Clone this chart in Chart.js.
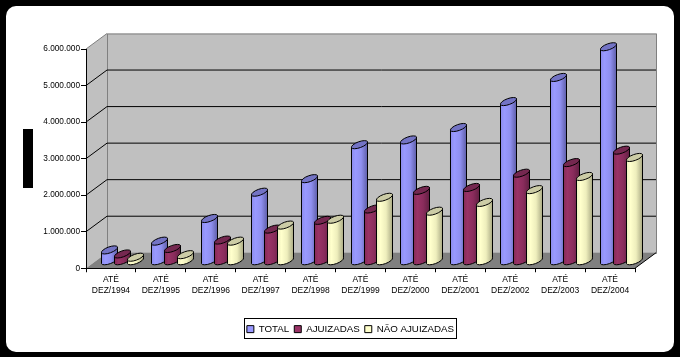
<!DOCTYPE html>
<html>
<head>
<meta charset="utf-8">
<style>html,body{margin:0;padding:0;background:#000;overflow:hidden}canvas{display:block}</style>
<script src="https://cdn.jsdelivr.net/npm/chart.js@4"></script>
</head>
<body>
<canvas id="c" width="680" height="357"></canvas>
<script>
const years = ['1994','1995','1996','1997','1998','1999','2000','2001','2002','2003','2004'];
const total = [310000,550000,1170000,1890000,2260000,3190000,3320000,3660000,4370000,5030000,5870000];
const ajuizadas = [200000,350000,580000,880000,1120000,1430000,1940000,2020000,2410000,2700000,3040000];
const naoAjuizadas = [110000,180000,550000,990000,1150000,1750000,1370000,1610000,1960000,2320000,2840000];

const DEPTH = {x:21, y:-15.5};
const BAR_SHIFT = {x:11, y:-7};
const TILT = 20 * Math.PI / 180;
const ELLIPSE_RY = 3;
const SHADES = {
  '#9999FF': ['#8C8CEC','#9999FF','#9090F0','#5E5EA8','#7373C4'],
  '#993366': ['#862B58','#993366','#8A2C5C','#611F42','#752850'],
  '#FFFFCC': ['#EDEDBE','#FFFFCC','#EEEEBC','#AAAA84','#CCCCA6']
};

const BarElement = Chart.registry.getElement('bar');
BarElement.prototype.draw = function (ctx) {
  const {x, y, base, width} = this.getProps(['x','y','base','width']);
  const s = SHADES[this.options.backgroundColor] || SHADES['#9999FF'];
  const left = Math.round(x + BAR_SHIFT.x - width / 2) + .5;
  const hw = Math.round(width) / 2, cx = left + hw;
  const top = y + BAR_SHIFT.y, bot = base + BAR_SHIFT.y;
  const rx = hw / Math.cos(TILT), dy = rx * Math.sin(TILT);
  const g = ctx.createLinearGradient(cx - hw, 0, cx + hw, 0);
  g.addColorStop(0, s[0]); g.addColorStop(0.25, s[1]); g.addColorStop(0.6, s[2]); g.addColorStop(1, s[3]);
  ctx.save();
  ctx.lineWidth = 1;
  ctx.strokeStyle = '#000';
  ctx.beginPath();
  ctx.moveTo(cx - hw, top + dy);
  ctx.lineTo(cx - hw, bot + dy);
  ctx.ellipse(cx, bot, rx, ELLIPSE_RY, -TILT, Math.PI, 0, true);
  ctx.lineTo(cx + hw, top - dy);
  ctx.closePath();
  ctx.fillStyle = g;
  ctx.fill();
  ctx.stroke();
  ctx.beginPath();
  ctx.ellipse(cx, top, rx, ELLIPSE_RY, -TILT, 0, Math.PI * 2);
  ctx.fillStyle = s[4];
  ctx.fill();
  ctx.stroke();
  ctx.restore();
};

const frame = {
  id: 'frame',
  beforeDraw(chart) {
    const ctx = chart.ctx, {x: xs, y: ys} = chart.scales;
    const L = xs.left, R = xs.right, B = ys.getPixelForValue(0), T = ys.getPixelForValue(6000000);
    ctx.save();
    ctx.fillStyle = '#000';
    ctx.fillRect(0, 0, 680, 357);
    ctx.fillStyle = '#fff';
    ctx.beginPath();
    ctx.roundRect(6, 6, 668, 346, 10);
    ctx.fill();
    ctx.fillStyle = '#000';
    ctx.fillRect(23, 129, 10, 59);

    ctx.fillStyle = '#C0C0C0';
    ctx.fillRect(L + DEPTH.x, T + DEPTH.y, R - L, B - T);
    ctx.beginPath();
    ctx.moveTo(L, T); ctx.lineTo(L + DEPTH.x, T + DEPTH.y);
    ctx.lineTo(L + DEPTH.x, B + DEPTH.y); ctx.lineTo(L, B); ctx.closePath();
    ctx.fill();
    ctx.strokeStyle = '#808080';
    ctx.lineWidth = 1;
    ctx.strokeRect(L + DEPTH.x + .5, T + DEPTH.y + .5, R - L, B - T);
    ctx.beginPath();
    ctx.moveTo(L, T); ctx.lineTo(L + DEPTH.x, T + DEPTH.y); ctx.stroke();

    ctx.fillStyle = '#808080';
    ctx.beginPath();
    ctx.moveTo(L, B); ctx.lineTo(L + DEPTH.x, B + DEPTH.y);
    ctx.lineTo(R + DEPTH.x, B + DEPTH.y); ctx.lineTo(R, B); ctx.closePath();
    ctx.fill();

    ctx.strokeStyle = '#000';
    ys.ticks.forEach(t => {
      if (t.value === 0 || t.value === 6000000) return;
      const p = ys.getPixelForValue(t.value);
      ctx.beginPath();
      ctx.moveTo(L, p); ctx.lineTo(L + DEPTH.x, p + DEPTH.y);
      ctx.lineTo(R + DEPTH.x, p + DEPTH.y);
      ctx.stroke();
    });
    ctx.beginPath();
    ctx.moveTo(R, B); ctx.lineTo(R + DEPTH.x, B + DEPTH.y); ctx.stroke();
    ctx.restore();
  },
  beforeDatasetsDraw(chart) {
    chart.getSortedVisibleDatasetMetas().forEach(m => m.controller.draw());
    return false;
  },
  afterDraw(chart) {
    const ctx = chart.ctx;
    ctx.save();
    ctx.strokeStyle = '#000';
    ctx.lineWidth = 1;
    ctx.strokeRect(244.5, 318.5, 212, 20);
    ctx.restore();
  }
};

const fmt = v => String(v).replace(/\B(?=(\d{3})+$)/g, '.');
const FONT = '"Liberation Sans", Arial, sans-serif';

new Chart(document.getElementById('c'), {
  type: 'bar',
  plugins: [frame],
  data: {
    labels: years.map(y => ['ATÉ', 'DEZ/' + y]),
    datasets: [
      {label: 'TOTAL', data: total, backgroundColor: '#9999FF', borderColor: '#000', borderWidth: 1},
      {label: 'AJUIZADAS', data: ajuizadas, backgroundColor: '#993366', borderColor: '#000', borderWidth: 1},
      {label: 'NÃO AJUIZADAS', data: naoAjuizadas, backgroundColor: '#FFFFCC', borderColor: '#000', borderWidth: 1}
    ]
  },
  options: {
    responsive: false,
    animation: false,
    devicePixelRatio: 1,
    categoryPercentage: 0.78,
    barPercentage: 1.23,
    layout: {padding: {left: 26, right: 5, top: 49, bottom: 13}},
    plugins: {
      tooltip: {enabled: false},
      legend: {
        position: 'bottom',
        labels: {
          color: '#000',
          boxWidth: 7, boxHeight: 7, padding: 5,
          font: {family: FONT, size: 9.75},
          generateLabels(chart) {
            return chart.data.datasets.map((d, i) => ({
              text: d.label, fillStyle: d.backgroundColor, strokeStyle: '#000', lineWidth: 1, datasetIndex: i, fontColor: '#000'
            }));
          }
        }
      }
    },
    scales: {
      x: {
        afterFit(s) { s.height = 51; },
        grid: {display: true, drawOnChartArea: false, drawTicks: true, tickLength: 4, color: '#000', offset: true},
        border: {display: true, color: '#000'},
        ticks: {color: '#000', maxRotation: 0, autoSkip: false, padding: 2,
          font: {family: FONT, size: 8.5, lineHeight: 1.3}}
      },
      y: {
        min: 0, max: 6000000,
        afterFit(s) { s.width = 60; },
        grid: {display: true, drawOnChartArea: false, drawTicks: true, tickLength: 5, color: '#000'},
        border: {display: true, color: '#000'},
        ticks: {color: '#000', stepSize: 1000000, padding: 1, callback: fmt,
          font: {family: FONT, size: 8.25}}
      },
      rightGutter: {
        position: 'right',
        afterFit(s) { s.width = 40; },
        grid: {display: false},
        border: {display: false},
        ticks: {display: false}
      }
    }
  }
});
</script>
</body>
</html>
